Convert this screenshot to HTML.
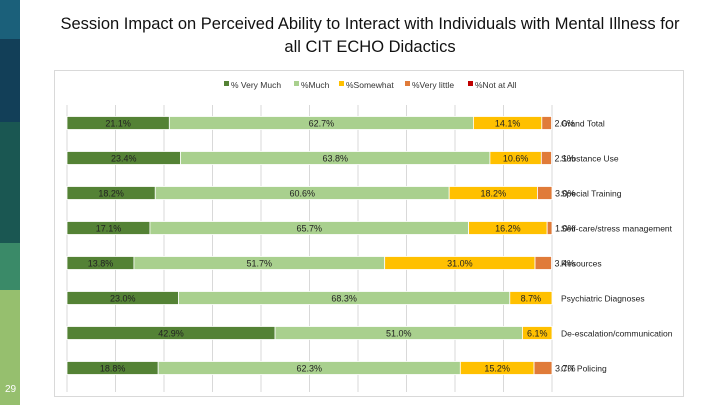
<!DOCTYPE html>
<html><head><meta charset="utf-8">
<style>
body{margin:0;width:720px;height:405px;overflow:hidden;background:#fff;font-family:"Liberation Sans",sans-serif;position:relative}
.strip{position:absolute;left:0;width:20px}
#title{position:absolute;left:20px;width:700px;top:13px;text-align:center;font-size:16.5px;line-height:23px;color:#111}
svg{position:absolute;left:0;top:0}
</style></head><body>
<div class="strip" style="top:0;height:39px;background:#1b607a"></div>
<div class="strip" style="top:39px;height:83px;background:#123f58"></div>
<div class="strip" style="top:122px;height:121px;background:#1a5752"></div>
<div class="strip" style="top:243px;height:47px;background:#3a8a68"></div>
<div class="strip" style="top:290px;height:115px;background:#96bf6e"></div>
<div style="position:absolute;left:5px;top:384px;font-size:10px;color:#fff">29</div>
<div id="title">Session Impact on Perceived Ability to Interact with Individuals with Mental Illness for<br>all CIT ECHO Didactics</div>
<svg id="chart" width="720" height="405"></svg>
<script>
const categories=["Grand Total","Substance Use","Special Training","Self-care/stress management","Resources","Psychiatric Diagnoses","De-escalation/communication","CIT Policing"];
const veryMuch=[21.1,23.4,18.2,17.1,13.8,23.0,42.9,18.8];
const much=[62.7,63.8,60.6,65.7,51.7,68.3,51.0,62.3];
const somewhat=[14.1,10.6,18.2,16.2,31.0,8.7,6.1,15.2];
const veryLittle=[2.0,2.1,3.0,1.0,3.4,0,0,3.7];
const notAtAll=[0,0,0,0,0,0,0,0];
const seriesNames=["% Very Much","%Much","%Somewhat","%Very little","%Not at All"];
const gridTicks=[0,10,20,30,40,50,60,70,80,90,100];

const NS="http://www.w3.org/2000/svg";
const svg=document.getElementById('chart');
const colors=["#548235","#a9d08e","#ffc000","#e07b39","#c00000"];
const legendX=[224,294,339,405,468];
const x0=67,x100=552,yTop=105,yBot=392,rowH=35,barH=13;
const xs=v=>x0+(x100-x0)*v/100;
const yc=i=>123+i*rowH;
function mk(t,a){const e=document.createElementNS(NS,t);for(const k in a)e.setAttribute(k,a[k]);svg.appendChild(e);return e;}
let border=mk('rect',{x:54.5,y:70.5,width:629,height:326,fill:'none',stroke:'#d9d9d9'});


gridTicks.forEach(t=>{
  const g=mk('line',{x1:xs(t),x2:xs(t),y1:yTop,y2:yBot,stroke:'#d9d9d9','stroke-width':1});
  
  
});
seriesNames.forEach((n,i)=>{
  const lx=legendX[i];
  const r=mk('rect',{x:lx,y:81,width:5,height:5,fill:colors[i]});
  
  
  const t=mk('text',{x:lx+7,y:88,'font-size':8.5,fill:'#333'});
  t.textContent=n;
  
  
});
const series=[veryMuch,much,somewhat,veryLittle,notAtAll];
categories.forEach((c,i)=>{
  let acc=0;
  series.forEach((s,k)=>{
    const v=s[i];
    if(v<=0)return;
    const a=xs(acc),b=xs(acc+v);
    const r=mk('rect',{x:a,y:yc(i)-barH/2,width:b-a,height:barH,fill:colors[k],stroke:'#fff','stroke-width':0.8});
    
    
    const small=(b-a)<20;
    const t=mk('text',{x:small?b+3:(a+b)/2,y:yc(i)+3.5,'font-size':9,fill:'#222','text-anchor':small?'start':'middle'});
    t.textContent=v.toFixed(1)+'%';
    
    
    acc+=v;
  });
  const t=mk('text',{x:561,y:yc(i)+3.5,'font-size':8.5,fill:'#222'});
  t.textContent=c;
  
  
});
</script>
</body></html>
